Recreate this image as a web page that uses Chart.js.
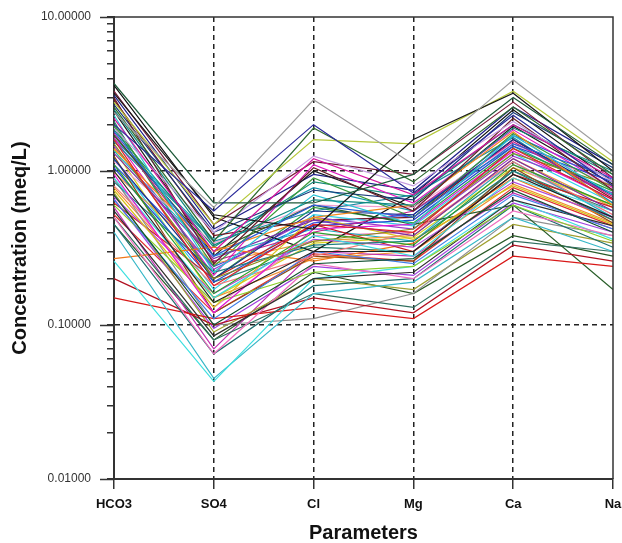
<!DOCTYPE html>
<html>
<head>
<meta charset="utf-8">
<script src="https://cdn.jsdelivr.net/npm/chart.js@4/dist/chart.umd.min.js"></script>
<style>
  html, body { margin: 0; padding: 0; background: #fff; }
  #wrap { width: 622px; height: 543px; }
</style>
</head>
<body>
<div id="wrap"><canvas id="canvas-line"></canvas></div>
<script>
// parameters on the x axis
var params = ["HCO3", "SO4", "Cl", "Mg", "Ca", "Na"];

// major ticks on the log axis (meq/L)
var majorTicks = [0.01, 0.1, 1, 10];

// one row per sample: HCO3, SO4, Cl, Mg, Ca, Na (meq/L)
var s01 = [2.4, 0.58, 2.9, 1.1, 3.9, 1.25];
var s02 = [2.0, 0.55, 2.0, 0.72, 2.3, 0.8];
var s03 = [3.7, 0.62, 0.62, 0.95, 3.0, 1.1];
var s04 = [3.2, 0.52, 0.42, 1.6, 3.2, 1.0];
var s05 = [2.8, 0.45, 1.6, 1.5, 3.3, 1.15];
var s06 = [2.6, 0.35, 1.9, 0.85, 2.6, 0.95];
var s07 = [2.2, 0.3, 1.2, 0.7, 2.0, 0.9];
var s08 = [1.9, 0.4, 1.25, 0.8, 2.1, 0.85];
var s09 = [3.0, 0.25, 1.05, 0.55, 2.2, 0.75];
var s10 = [2.5, 0.33, 0.65, 0.6, 1.9, 1.0];
var s11 = [2.3, 0.22, 0.7, 0.45, 1.7, 0.7];
var s12 = [1.8, 0.28, 0.6, 0.5, 1.5, 0.9];
var s13 = [1.6, 0.18, 0.45, 0.4, 1.4, 0.65];
var s14 = [1.4, 0.3, 0.5, 0.6, 1.8, 0.6];
var s15 = [1.5, 0.2, 0.35, 0.42, 1.3, 0.8];
var s16 = [1.3, 0.27, 0.48, 0.38, 1.2, 0.55];
var s17 = [1.2, 0.2, 0.55, 0.52, 1.6, 0.7];
var s18 = [1.1, 0.16, 0.4, 0.33, 1.1, 0.6];
var s19 = [1.0, 0.14, 0.3, 0.3, 0.95, 0.5];
var s20 = [0.95, 0.12, 0.42, 0.45, 1.35, 0.65];
var s21 = [0.9, 0.15, 0.38, 0.28, 0.9, 0.55];
var s22 = [0.85, 0.22, 0.33, 0.35, 1.0, 0.48];
var s23 = [0.8, 0.18, 0.28, 0.4, 1.15, 0.52];
var s24 = [0.75, 0.13, 0.5, 0.36, 0.8, 0.45];
var s25 = [0.7, 0.1, 0.25, 0.27, 0.75, 0.4];
var s26 = [0.68, 0.16, 0.36, 0.32, 0.85, 0.5];
var s27 = [0.65, 0.11, 0.3, 0.25, 0.7, 0.42];
var s28 = [0.62, 0.2, 0.45, 0.3, 0.95, 0.58];
var s29 = [0.6, 0.14, 0.22, 0.24, 0.6, 0.35];
var s30 = [0.55, 0.085, 0.2, 0.22, 0.65, 0.44];
var s31 = [0.5, 0.065, 0.25, 0.2, 0.55, 0.38];
var s32 = [0.45, 0.065, 0.18, 0.2, 0.6, 0.32];
var s33 = [0.26, 0.043, 0.2, 0.24, 0.65, 0.36];
var s34 = [0.4, 0.045, 0.16, 0.19, 0.5, 0.3];
var s35 = [0.15, 0.11, 0.13, 0.11, 0.28, 0.24];
var s36 = [0.2, 0.1, 0.15, 0.12, 0.33, 0.26];
var s37 = [0.27, 0.32, 0.26, 0.34, 0.9, 0.48];
var s38 = [1.7, 0.3, 0.6, 0.45, 0.6, 0.17];
var s39 = [0.5, 0.08, 0.16, 0.13, 0.35, 0.3];
var s40 = [0.9, 0.1, 0.11, 0.16, 0.5, 0.38];
var s41 = [3.3, 0.45, 1.15, 0.95, 2.8, 0.9];
var s42 = [2.7, 0.4, 0.75, 0.65, 2.4, 1.05];
var s43 = [2.0, 0.24, 0.9, 0.5, 1.75, 0.75];
var s44 = [1.75, 0.26, 0.4, 0.55, 1.55, 0.68];
var s45 = [1.55, 0.35, 0.55, 0.7, 1.65, 0.62];
var s46 = [1.25, 0.12, 0.28, 0.26, 1.05, 0.46];
var s47 = [1.45, 0.23, 0.5, 0.42, 1.25, 0.72];
var s48 = [1.05, 0.19, 0.44, 0.48, 1.45, 0.85];
var s49 = [0.98, 0.25, 0.35, 0.38, 1.2, 0.58];
var s50 = [3.6, 0.5, 0.3, 0.7, 2.5, 0.85];
var s51 = [0.72, 0.09, 0.2, 0.17, 0.45, 0.34];
var s52 = [1.15, 0.34, 0.6, 0.58, 1.5, 0.8];
var s53 = [1.35, 0.28, 0.42, 0.35, 1.15, 0.5];
var s54 = [2.1, 0.19, 0.32, 0.3, 1.0, 0.55];
var s55 = [0.58, 0.07, 0.3, 0.28, 0.72, 0.42];
var s56 = [0.45, 0.08, 0.22, 0.16, 0.38, 0.28];
var s57 = [1.65, 0.21, 1.1, 0.62, 1.85, 0.78];
var s58 = [1.85, 0.32, 0.85, 0.68, 2.0, 0.95];
var s59 = [1.2, 0.17, 0.52, 0.44, 1.3, 0.62];
var s60 = [0.88, 0.13, 0.38, 0.4, 1.1, 0.52];
var s61 = [2.9, 0.38, 0.48, 0.5, 1.6, 0.66];
var s62 = [1.1, 0.24, 0.46, 0.52, 1.7, 0.88];
var s63 = [0.78, 0.15, 0.27, 0.3, 0.82, 0.46];
var s64 = [2.45, 0.28, 1.0, 0.58, 1.95, 0.82];
var s65 = [1.38, 0.15, 0.34, 0.37, 1.05, 0.6];
var s66 = [0.66, 0.095, 0.24, 0.21, 0.62, 0.4];
var s67 = [3.1, 0.42, 0.95, 0.75, 2.6, 1.1];
var s68 = [1.95, 0.2, 0.58, 0.46, 1.4, 0.74];
var s69 = [0.52, 0.12, 0.29, 0.26, 0.78, 0.44];
var s70 = [1.62, 0.36, 0.78, 0.55, 1.45, 0.7];

var samples = [s01, s02, s03, s04, s05, s06, s07, s08, s09, s10, s11, s12, s13, s14,
  s15, s16, s17, s18, s19, s20, s21, s22, s23, s24, s25, s26, s27, s28, s29, s30,
  s31, s32, s33, s34, s35, s36, s37, s38, s39, s40, s41, s42, s43, s44, s45, s46,
  s47, s48, s49, s50, s51, s52, s53, s54, s55, s56, s57, s58, s59, s60, s61, s62,
  s63, s64, s65, s66, s67, s68, s69, s70];

var lineColors = [
  "#a0a0a0", "#2b2b9a", "#1f5a3a", "#1a1a1a", "#b5c83a", "#2f6b2f", "#d4169e",
  "#c59ce0", "#6b1f2a", "#138a80", "#29c4d4", "#2f5fd6", "#e0212b", "#f28a1e",
  "#8a8a1a", "#7a2fa6", "#1a2f8a", "#2aa02a", "#222222", "#e21ad2", "#3fd8e0",
  "#1f7f7f", "#f07a7a", "#d8c21a", "#0f4f2f", "#b04ad8", "#3f7fe8", "#c81e1e",
  "#8ad02a", "#303030", "#f070c0", "#1f6f6f", "#40e0e0", "#38b8c8", "#d81818",
  "#b01020", "#f0781a", "#2a5f2a", "#2f6f5f", "#909090", "#7a1a3a", "#1a3a7a",
  "#3a9a3a", "#c8208a", "#1a8aa0", "#8a4a1a", "#9a3ac8", "#2a4ad0", "#e89a3a",
  "#101010", "#a0a030", "#f0a0d0", "#20b0c0", "#2a8070", "#c030b0", "#285a28",
  "#e01ac0", "#178c7a", "#30d0e8", "#f08ac8", "#7a1420", "#3050e0", "#f09030",
  "#1c1c1c", "#d8d020", "#a040e0", "#20208a", "#30a040", "#e03030", "#1898b0"
];

var datasets = samples.map(function (vals, i) {
  return {
    label: "Sample " + (i + 1),
    data: vals,
    borderColor: lineColors[i % lineColors.length],
    borderWidth: 1.2,
    pointRadius: 0,
    fill: false,
    tension: 0
  };
});

function isMajor(v) {
  var l = Math.log10(v);
  return Math.abs(l - Math.round(l)) < 1e-9;
}

var fontFam = "Arial, 'Liberation Sans', sans-serif";

// outer frame on top/right, longer major ticks on y
var framePlugin = {
  id: "frame",
  afterDraw: function (chart) {
    var ctx = chart.ctx;
    var a = chart.chartArea;
    var y = chart.scales.y;
    ctx.save();
    ctx.strokeStyle = "#333";
    ctx.lineWidth = 1.5;
    ctx.beginPath();
    ctx.moveTo(a.left, a.top);
    ctx.lineTo(a.right, a.top);
    ctx.lineTo(a.right, a.bottom);
    ctx.stroke();
    majorTicks.forEach(function (v) {
      var py = Math.round(y.getPixelForValue(v)) + 0.5;
      ctx.beginPath();
      ctx.moveTo(a.left - 14, py);
      ctx.lineTo(a.left, py);
      ctx.stroke();
    });
    ctx.restore();
  }
};

var ctx = document.getElementById("canvas-line").getContext("2d");
var chart = new Chart(ctx, {
  type: "line",
  data: {
    labels: params,
    datasets: datasets
  },
  options: {
    responsive: true,
    maintainAspectRatio: false,
    animation: false,
    layout: { padding: { top: 17, right: 9, left: 0, bottom: 0 } },
    plugins: {
      legend: { display: false },
      tooltip: { enabled: false }
    },
    scales: {
      x: {
        type: "category",
        offset: false,
        afterFit: function (scale) {
          scale.height = 64;
          scale.paddingLeft = 0;
          scale.paddingRight = 0;
        },
        grid: {
          color: function (c) {
            return (c.index === 0 || c.index === params.length - 1) ? "rgba(0,0,0,0)" : "#222";
          },
          lineWidth: 1.5,
          tickColor: "#333",
          tickLength: 10,
          tickBorderDash: []
        },
        border: { display: true, color: "#333", width: 2, dash: [5, 4] },
        ticks: {
          color: "#111",
          padding: 8,
          maxRotation: 0,
          font: { family: fontFam, size: 13, weight: "bold" }
        },
        title: {
          display: true,
          text: "Parameters",
          color: "#111",
          padding: { top: 0, bottom: 0 },
          font: { family: fontFam, size: 20, weight: "bold", lineHeight: 1 }
        }
      },
      y: {
        type: "logarithmic",
        min: 0.01,
        max: 10,
        afterFit: function (scale) {
          scale.width = 114;
          scale.paddingTop = 0;
          scale.paddingBottom = 0;
        },
        afterBuildTicks: function (scale) {
          var t = [];
          for (var e = -2; e <= 0; e++) {
            for (var m = 1; m <= 9; m++) {
              t.push({ value: Number((m * Math.pow(10, e)).toPrecision(3)) });
            }
          }
          t.push({ value: 10 });
          scale.ticks = t;
        },
        grid: {
          color: function (c) {
            var v = c.tick ? c.tick.value : 0;
            if (!isMajor(v) || v === 0.01 || v === 10) return "rgba(0,0,0,0)";
            return "#222";
          },
          lineWidth: 1.5,
          tickColor: "#333",
          tickLength: 7,
          tickBorderDash: []
        },
        border: { display: true, color: "#333", width: 2, dash: [5, 4] },
        ticks: {
          autoSkip: false,
          color: "#333",
          padding: 16,
          font: { family: fontFam, size: 12 },
          callback: function (value) {
            return isMajor(value) ? Number(value).toFixed(5) : "";
          }
        },
        title: {
          display: true,
          text: "Concentration (meq/L)",
          color: "#111",
          padding: { top: 8, bottom: 0 },
          font: { family: fontFam, size: 20, weight: "bold", lineHeight: 1.2 }
        }
      }
    }
  },
  plugins: [framePlugin]
});
chart.render();
</script>
</body>
</html>
